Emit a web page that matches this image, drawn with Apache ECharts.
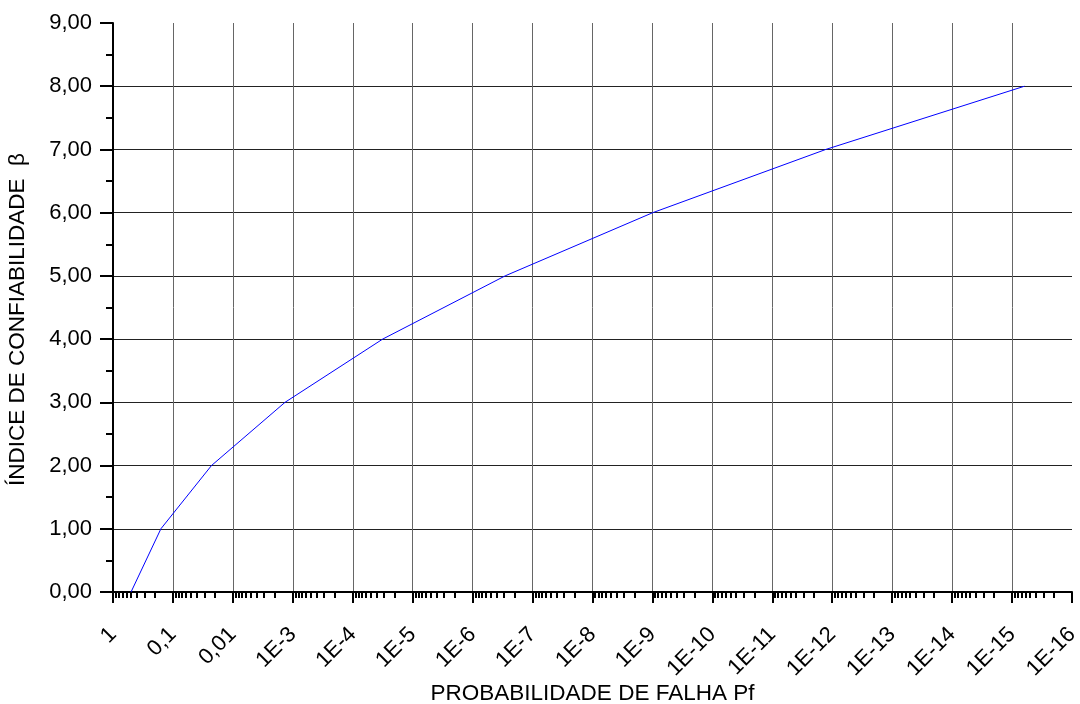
<!DOCTYPE html>
<html>
<head>
<meta charset="utf-8">
<script src="https://cdn.jsdelivr.net/npm/echarts@6/dist/echarts.min.js"></script>
<style>
  html, body { margin: 0; padding: 0; background: #ffffff; }
  #chart { width: 1080px; height: 704px; }
</style>
</head>
<body>
<div id="chart"></div>
<script>
// Reliability index beta against probability of failure Pf
const failureProbability = [0.5, 0.1587, 0.02275, 1.35e-3, 3.17e-5, 2.87e-7, 9.87e-10, 1.28e-12, 6.22e-16];
const reliabilityIndex = [0, 1, 2, 3, 4, 5, 6, 7, 8];

// Decade tick labels, from 1 down to 1E-16
const decadeLabels = ['1', '0,1', '0,01', '1E-3', '1E-4', '1E-5', '1E-6', '1E-7', '1E-8',
  '1E-9', '1E-10', '1E-11', '1E-12', '1E-13', '1E-14', '1E-15', '1E-16'];

// Tick positions: every power of ten, plus 2..9 times each power of ten
const decadeTickValues = decadeLabels.map(function (_, d) { return Math.pow(10, -d); });
const minorTickValues = [];
for (let d = 1; d <= 16; d++) {
  for (let k = 2; k <= 9; k++) minorTickValues.push(k * Math.pow(10, -d));
}

const FONT = 'Liberation Sans, Arial, sans-serif';

const chart = echarts.init(document.getElementById('chart'), null, { renderer: 'canvas' });

chart.setOption({
  animation: false,
  backgroundColor: '#ffffff',
  grid: { left: 113, right: 8, top: 23, bottom: 112, containLabel: false, outerBoundsMode: 'none' },
  xAxis: [
    {
      type: 'log',
      logBase: 10,
      min: 1e-16,
      max: 1,
      inverse: true,
      name: 'PROBABILIDADE DE FALHA Pf',
      nameLocation: 'middle',
      nameGap: 90,
      nameMoveOverlap: false,
      nameTextStyle: { fontFamily: FONT, fontSize: 22.5, color: '#000' },
      axisLine: { show: true, lineStyle: { color: '#000', width: 2 } },
      axisTick: { show: true, length: 11, customValues: decadeTickValues, lineStyle: { color: '#000', width: 2 } },
      minorTick: { show: false },
      axisLabel: {
        rotate: 45,
        margin: 39,
        customValues: decadeTickValues,
        fontFamily: FONT, fontSize: 22, color: '#000',
        formatter: function (v) {
          const e = Math.round(-Math.log10(v));
          return decadeLabels[e] !== undefined ? decadeLabels[e] : '';
        }
      },
      splitLine: { show: true, showMinLine: false, showMaxLine: false, lineStyle: { color: '#666', width: 1 } }
    },
    {
      type: 'log',
      logBase: 10,
      min: 1e-16,
      max: 1,
      inverse: true,
      position: 'bottom',
      axisLine: { show: false },
      axisLabel: { show: false },
      splitLine: { show: false },
      axisTick: { show: true, length: 6, customValues: minorTickValues, lineStyle: { color: '#000', width: 2 } }
    }
  ],
  yAxis: {
    type: 'value',
    min: 0,
    max: 9,
    interval: 1,
    name: 'ÍNDICE DE CONFIABILIDADE  β',
    nameLocation: 'middle',
    nameGap: 84,
    nameMoveOverlap: false,
    nameTextStyle: { fontFamily: FONT, fontSize: 22.5, color: '#000', padding: [0, 24, 0, 0] },
    axisLine: { show: true, lineStyle: { color: '#000', width: 2 } },
    axisTick: { show: true, length: 13, lineStyle: { color: '#000', width: 2 } },
    minorTick: { show: true, splitNumber: 2, length: 7, lineStyle: { color: '#000', width: 2 } },
    axisLabel: {
      margin: 21,
      fontFamily: FONT, fontSize: 22, color: '#000',
      formatter: function (v) { return v.toFixed(2).replace('.', ','); }
    },
    splitLine: { show: true, showMinLine: false, showMaxLine: false, lineStyle: { color: '#222', width: 1 } }
  },
  series: [{
    type: 'line',
    xAxisIndex: 0,
    data: failureProbability.map(function (p, i) { return [p, reliabilityIndex[i]]; }),
    showSymbol: false,
    symbol: 'none',
    lineStyle: { color: '#0000ff', width: 1 },
    z: 5
  }]
});
</script>
</body>
</html>
